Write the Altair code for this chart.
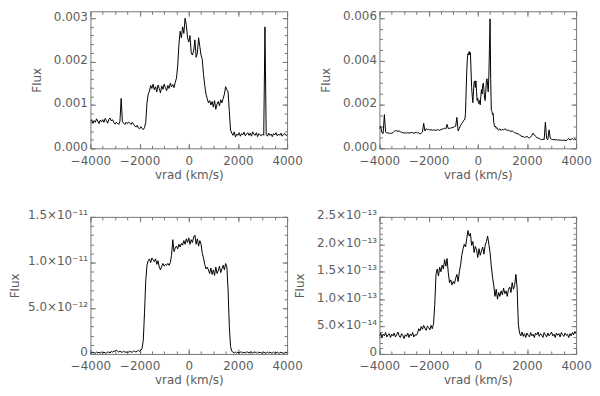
import altair as alt
import pandas as pd

# ---------------- data ----------------
# common velocity grid (km/s) for panels 1, 3, 4
VRAD = [
    -4000, -3950, -3900, -3850, -3800, -3750, -3700, -3650, -3600, -3550,
    -3500, -3450, -3400, -3350, -3300, -3250, -3200, -3150, -3100, -3050,
    -3000, -2950, -2900, -2850, -2800, -2750, -2700, -2650, -2600, -2550,
    -2500, -2450, -2400, -2350, -2300, -2250, -2200, -2150, -2100, -2050,
    -2000, -1950, -1900, -1850, -1800, -1750, -1700, -1650, -1600, -1550,
    -1500, -1450, -1400, -1350, -1300, -1250, -1200, -1150, -1100, -1050,
    -1000, -950, -900, -850, -800, -750, -700, -650, -600, -550,
    -500, -450, -400, -350, -300, -250, -200, -150, -100, -50,
    0, 50, 100, 150, 200, 250, 300, 350, 400, 450,
    500, 550, 600, 650, 700, 750, 800, 850, 900, 950,
    1000, 1050, 1100, 1150, 1200, 1250, 1300, 1350, 1400, 1450,
    1500, 1550, 1600, 1650, 1700, 1750, 1800, 1850, 1900, 1950,
    2000, 2050, 2100, 2150, 2200, 2250, 2300, 2350, 2400, 2450,
    2500, 2550, 2600, 2650, 2700, 2750, 2800, 2850, 2900, 2950,
    3000, 3050, 3100, 3150, 3200, 3250, 3300, 3350, 3400, 3450,
    3500, 3550, 3600, 3650, 3700, 3750, 3800, 3850, 3900, 3950,
    4000,
]

# panel 1 flux, units of 1e-3
FLUX1 = [
    0.62, 0.66, 0.58, 0.64, 0.60, 0.68, 0.63, 0.57, 0.65, 0.61,
    0.66, 0.60, 0.69, 0.64, 0.58, 0.67, 0.70, 0.63, 0.66, 0.60,
    0.56, 0.60, 0.58, 0.55, 0.62, 1.15, 0.62, 0.58, 0.55, 0.60,
    0.57, 0.61, 0.58, 0.55, 0.60, 0.56, 0.52, 0.49, 0.53, 0.47,
    0.45, 0.50, 0.46, 0.43, 0.48, 0.60, 1.05, 1.25, 1.32, 1.45,
    1.38, 1.48, 1.35, 1.42, 1.30, 1.46, 1.38, 1.28, 1.44, 1.36,
    1.48, 1.40, 1.33, 1.45, 1.38, 1.50, 1.42, 1.47, 1.40, 1.52,
    1.62, 1.90, 2.40, 2.70, 2.55, 2.80, 2.65, 3.00, 2.85, 2.55,
    2.45, 2.60, 2.20, 2.15, 2.25, 2.50, 2.10, 2.20, 2.55, 2.35,
    2.15, 2.05, 1.70, 1.45, 1.25, 1.15, 1.05, 1.10, 1.00, 1.08,
    0.95, 1.10, 0.90, 1.02, 1.08, 0.98, 1.12, 1.05, 1.15, 1.25,
    1.42, 1.35, 1.30, 0.85, 0.42, 0.35, 0.30, 0.38, 0.26, 0.33,
    0.30, 0.36, 0.28, 0.34, 0.31, 0.37, 0.29, 0.33, 0.36, 0.30,
    0.35, 0.28, 0.38, 0.32, 0.30, 0.36, 0.27, 0.34, 0.31, 0.29,
    0.33, 0.30, 2.80, 0.32, 0.28, 0.35, 0.30, 0.33, 0.27, 0.34,
    0.31, 0.36, 0.29, 0.33, 0.30, 0.35, 0.28, 0.32, 0.34, 0.30,
    0.31,
]

# panel 2 has its own (finer in the core) grid
VRAD2 = [
    -4000, -3950, -3900, -3850, -3800, -3750, -3700, -3650, -3600, -3550,
    -3500, -3450, -3400, -3350, -3300, -3250, -3200, -3150, -3100, -3050,
    -3000, -2950, -2900, -2850, -2800, -2750, -2700, -2650, -2600, -2550,
    -2500, -2450, -2400, -2350, -2300, -2250, -2200, -2150, -2100, -2050,
    -2000, -1950, -1900, -1850, -1800, -1750, -1700, -1650, -1600, -1550,
    -1500, -1450, -1400, -1350, -1300, -1250, -1200, -1150, -1100, -1050,
    -1000, -950, -900, -850, -800, -750, -700, -650, -600,
    -575, -550, -525, -500, -475, -450, -425, -400, -375, -350,
    -325, -300, -275, -250, -225, -200, -175, -150, -125, -100,
    -75, -50, -25, 0, 25, 50, 75, 100, 125, 150,
    175, 200, 225, 250, 275, 300, 325, 350, 375, 400,
    425, 450, 475, 500, 525, 550, 575, 600, 625, 650,
    675, 700, 725, 750, 775, 800,
    850, 900, 950, 1000, 1050, 1100, 1150, 1200, 1250, 1300,
    1350, 1400, 1450, 1500, 1550, 1600, 1650, 1700, 1750, 1800,
    1850, 1900, 1950, 2000, 2050, 2100, 2150, 2200, 2250, 2300,
    2350, 2400, 2450, 2500, 2550, 2600, 2650, 2700, 2750, 2800,
    2850, 2900, 2950, 3000, 3050, 3100, 3150, 3200, 3250, 3300,
    3350, 3400, 3450, 3500, 3550, 3600, 3650, 3700, 3750, 3800,
    3850, 3900, 3950, 4000,
]

# panel 2 flux, units of 1e-3
FLUX2 = [
    0.90, 1.02, 0.72, 0.68, 1.55, 0.75, 0.70, 0.72, 0.68, 0.70,
    0.69, 0.72, 0.78, 0.82, 0.80, 0.79, 0.80, 0.76, 0.74, 0.72,
    0.70, 0.72, 0.70, 0.72, 0.70, 0.71, 0.73, 0.72, 0.70, 0.72,
    0.74, 0.70, 0.72, 0.66, 0.70, 0.75, 1.15, 0.80, 0.90, 0.86,
    0.87, 0.84, 0.86, 0.83, 0.85, 0.84, 0.82, 0.86, 0.85, 0.83,
    0.86, 0.88, 0.90, 0.92, 0.90, 1.10, 0.90, 0.92, 0.93, 0.95,
    0.96, 1.00, 1.02, 1.42, 0.80, 0.92, 1.05, 1.15, 1.22,
    1.28, 1.30, 1.35, 1.60, 2.60, 3.50, 4.10, 4.35, 4.30, 4.45,
    4.30, 4.40, 3.60, 2.80, 2.40, 2.10, 2.60, 3.05, 3.10, 2.80,
    3.10, 2.60, 2.20, 2.30, 2.10, 2.05, 2.20, 2.00, 2.40, 2.70,
    2.50, 2.90, 3.00, 2.70, 2.30, 2.20, 2.60, 3.10, 3.20, 2.90,
    2.60, 3.30, 4.60, 5.95, 3.20, 1.75, 1.70, 1.55, 1.60, 1.20,
    1.05, 0.98, 1.02, 0.92, 0.95, 0.88,
    0.85, 0.90, 0.82, 0.88, 0.84, 0.90, 0.86, 0.82, 0.84, 0.80,
    0.78, 0.80, 0.76, 0.72, 0.70, 0.68, 0.66, 0.62, 0.60, 0.52,
    0.55, 0.50, 0.52, 0.55, 0.50, 0.48, 0.52, 0.60, 0.70, 0.62,
    0.55, 0.50, 0.48, 0.45, 0.42, 0.40, 0.42, 0.40, 1.20, 0.45,
    0.40, 0.85, 0.45, 0.42, 0.40, 0.41, 0.38, 0.40, 0.38, 0.39,
    0.37, 0.38, 0.36, 0.38, 0.37, 0.36, 0.40, 0.45, 0.38, 0.42,
    0.45, 0.40, 0.44, 0.38,
]

# panel 3 flux, units of 1e-11
FLUX3 = [
    0.02, 0.01, 0.02, 0.01, 0.01, 0.02, 0.01, 0.02, 0.01, 0.02,
    0.01, 0.02, 0.01, 0.01, 0.02, 0.02, 0.01, 0.03, 0.02, 0.03,
    0.03, 0.04, 0.03, 0.02, 0.03, 0.02, 0.02, 0.03, 0.02, 0.02,
    0.02, 0.02, 0.03, 0.02, 0.02, 0.03, 0.03, 0.02, 0.03, 0.04,
    0.03, 0.04, 0.06, 0.15, 0.45, 0.80, 0.97, 1.02, 1.04, 1.00,
    1.05, 1.03, 1.01, 1.04, 0.98, 1.02, 0.95, 0.92, 0.96, 0.99,
    0.96, 0.98, 0.97, 0.99, 0.97, 1.00, 1.08, 1.25, 1.12, 1.16,
    1.18, 1.15, 1.20, 1.17, 1.21, 1.19, 1.24, 1.20, 1.26, 1.22,
    1.27, 1.20, 1.25, 1.22, 1.28, 1.30, 1.20, 1.26, 1.18, 1.24,
    1.20, 1.10, 1.05, 0.98, 0.93, 0.95, 0.92, 0.88, 0.94, 0.87,
    0.92, 0.86, 0.95, 0.88, 0.91, 0.96, 0.89, 0.93, 0.97, 0.92,
    0.99, 0.95, 0.70, 0.30, 0.08, 0.03, 0.02, 0.01, 0.02, 0.01,
    0.02, 0.01, 0.02, 0.02, 0.01, 0.02, 0.01, 0.02, 0.02, 0.01,
    0.02, 0.02, 0.01, 0.02, 0.02, 0.01, 0.02, 0.01, 0.02, 0.01,
    0.01, 0.02, 0.01, 0.01, 0.02, 0.01, 0.02, 0.01, 0.01, 0.02,
    0.01, 0.01, 0.02, 0.01, 0.01, 0.02, 0.01, 0.01, 0.01, 0.02,
    0.01,
]

# panel 4 flux, units of 1e-13
FLUX4 = [
    0.32, 0.38, 0.30, 0.36, 0.33, 0.39, 0.31, 0.35, 0.37, 0.30,
    0.36, 0.33, 0.38, 0.31, 0.35, 0.40, 0.33, 0.30, 0.37, 0.34,
    0.28, 0.35, 0.32, 0.38, 0.30, 0.36, 0.33, 0.39, 0.31, 0.35,
    0.34, 0.38, 0.46, 0.42, 0.50, 0.45, 0.52, 0.47, 0.43, 0.51,
    0.48, 0.44, 0.52, 0.46, 0.55, 0.90, 1.45, 1.55, 1.42, 1.58,
    1.50, 1.62, 1.55, 1.72, 1.60, 1.74, 1.48, 1.30, 1.35, 1.26,
    1.32, 1.28, 1.38, 1.45, 1.32, 1.50, 1.62, 1.80, 1.92, 2.00,
    1.95, 2.10, 2.25, 2.15, 2.20, 1.98, 2.05, 1.85, 1.96, 1.90,
    1.76, 1.92, 1.80, 1.88, 1.95, 1.82, 1.98, 2.05, 2.15, 2.00,
    1.85, 1.60, 1.40, 1.25, 1.05, 1.18, 1.00, 1.12, 1.05, 1.15,
    1.08, 1.20, 1.10, 1.15, 1.05, 1.18, 1.22, 1.12, 1.30, 1.18,
    1.25, 1.45, 1.20, 0.55, 0.38, 0.33, 0.40, 0.32, 0.37, 0.30,
    0.38, 0.34, 0.31, 0.39, 0.33, 0.36, 0.30, 0.38, 0.35, 0.40,
    0.32, 0.37, 0.34, 0.30, 0.39, 0.35, 0.31, 0.38, 0.33, 0.36,
    0.40, 0.33, 0.36, 0.30, 0.38, 0.34, 0.37, 0.31, 0.39, 0.35,
    0.32, 0.38, 0.34, 0.36, 0.30, 0.37, 0.33, 0.39, 0.35, 0.41,
    0.37,
]

# axis ticks and labels
X_MAJOR = [-4000, -2000, 0, 2000, 4000]
X_MINOR = [-4000, -3500, -3000, -2500, -2000, -1500, -1000, -500, 0,
           500, 1000, 1500, 2000, 2500, 3000, 3500, 4000]

Y1_MAJOR = [0, 0.001, 0.002, 0.003]
Y1_MINOR_STEP, Y1_MINOR_N = 0.0002, 16
Y1_MAX = 0.00316

Y2_MAJOR = [0, 0.002, 0.004, 0.006]
Y2_MINOR_STEP, Y2_MINOR_N = 0.0005, 13
Y2_MAX = 0.0063

Y3_MAJOR = [0, 5e-12, 1e-11, 1.5e-11]
Y3_LABELS = ["0", "5.0×10⁻¹²", "1.0×10⁻¹¹", "1.5×10⁻¹¹"]
Y3_MINOR_STEP, Y3_MINOR_N = 1e-12, 16
Y3_MAX = 1.5e-11

Y4_MAJOR = [0, 5e-14, 1e-13, 1.5e-13, 2e-13, 2.5e-13]
Y4_LABELS = ["0", "5.0×10⁻¹⁴", "1.0×10⁻¹³", "1.5×10⁻¹³", "2.0×10⁻¹³", "2.5×10⁻¹³"]
Y4_MINOR_STEP, Y4_MINOR_N = 1e-14, 26
Y4_MAX = 2.5e-13

# ---------------- styling ----------------
FRAME = "#777777"
TEXT = "#5c5c5c"
FONT = "DejaVu Sans"
W, H = 198, 138
MAJ, MIN = 5, 3


def frame_df(xs, ys, unit):
    return pd.DataFrame({"vrad": xs, "flux": [v * unit for v in ys]})


def label_expr(values, labels):
    vals = ",".join(repr(v) for v in values)
    labs = ",".join("'" + s + "'" for s in labels)
    return "[" + labs + "][indexof([" + vals + "], datum.value)]"


def panel(df, ymax, ymajor, yminor, ylab, ytitle_pad=10):
    xs = alt.Scale(domain=[-4000, 4000], nice=False, zero=False)
    ys = alt.Scale(domain=[0, ymax], nice=False, zero=False)

    def common(orient, vals, size):
        return dict(orient=orient, values=vals, tickSize=size, offset=-size,
                    domain=False, grid=False, tickColor=FRAME, tickWidth=1,
                    minExtent=0)

    def xaxis(orient, vals, size, main):
        kw = common(orient, vals, size)
        if main:
            kw.update(labels=True, format="d", labelFlush=False, labelOverlap=False,
                      labelPadding=7, title="vrad (km/s)", titlePadding=3)
        else:
            kw.update(labels=False, title=None)
        return alt.Axis(**kw)

    def yaxis(orient, vals, size, main):
        kw = common(orient, vals, size)
        if main:
            kw.update(labels=True, labelFlush=False, labelOverlap=False,
                      labelPadding=3, labelOffset=-2, title="Flux",
                      titlePadding=ytitle_pad, **ylab)
        else:
            kw.update(labels=False, title=None)
        return alt.Axis(**kw)

    specs = [
        ("bottom", "left", X_MAJOR, ymajor, MAJ, True),
        ("bottom", "left", X_MINOR, yminor, MIN, False),
        ("top", "right", X_MAJOR, ymajor, MAJ, False),
        ("top", "right", X_MINOR, yminor, MIN, False),
    ]
    layers = []
    for xo, yo, xv, yv, size, main in specs:
        base = alt.Chart(df)
        if main:
            m = base.mark_line(color="black", strokeWidth=1, clip=True)
        else:
            m = base.mark_line(opacity=0, clip=True)
        layers.append(m.encode(
            x=alt.X("vrad:Q", scale=xs, axis=xaxis(xo, xv, size, main)),
            y=alt.Y("flux:Q", scale=ys, axis=yaxis(yo, yv, size, main)),
        ))
    return (alt.layer(*layers)
            .resolve_scale(x="independent", y="independent")
            .properties(width=W, height=H))


p1 = panel(frame_df(VRAD, FLUX1, 1e-3), Y1_MAX, Y1_MAJOR,
           [k * Y1_MINOR_STEP for k in range(Y1_MINOR_N)], dict(format=".3f"))
p2 = panel(frame_df(VRAD2, FLUX2, 1e-3), Y2_MAX, Y2_MAJOR,
           [k * Y2_MINOR_STEP for k in range(Y2_MINOR_N)], dict(format=".3f"))
p3 = panel(frame_df(VRAD, FLUX3, 1e-11), Y3_MAX, Y3_MAJOR,
           [k * Y3_MINOR_STEP for k in range(Y3_MINOR_N)],
           dict(labelExpr=label_expr(Y3_MAJOR, Y3_LABELS)), ytitle_pad=6)
p4 = panel(frame_df(VRAD, FLUX4, 1e-13), Y4_MAX, Y4_MAJOR,
           [k * Y4_MINOR_STEP for k in range(Y4_MINOR_N)],
           dict(labelExpr=label_expr(Y4_MAJOR, Y4_LABELS)))

chart = (
    alt.concat(p1, p2, p3, p4, columns=2,
               spacing={"row": 69, "column": 93}, bounds="flush")
    .properties(padding={"left": 0, "top": 0, "right": 0, "bottom": 0},
                background="white")
    .configure_view(stroke=FRAME, strokeWidth=1)
    .configure_axis(labelFont=FONT, titleFont=FONT, labelFontSize=12,
                    titleFontSize=12, labelColor=TEXT, titleColor=TEXT,
                    titleFontWeight="normal")
)

chart.save("out.html", embed_options={"renderer": "svg", "actions": False})
